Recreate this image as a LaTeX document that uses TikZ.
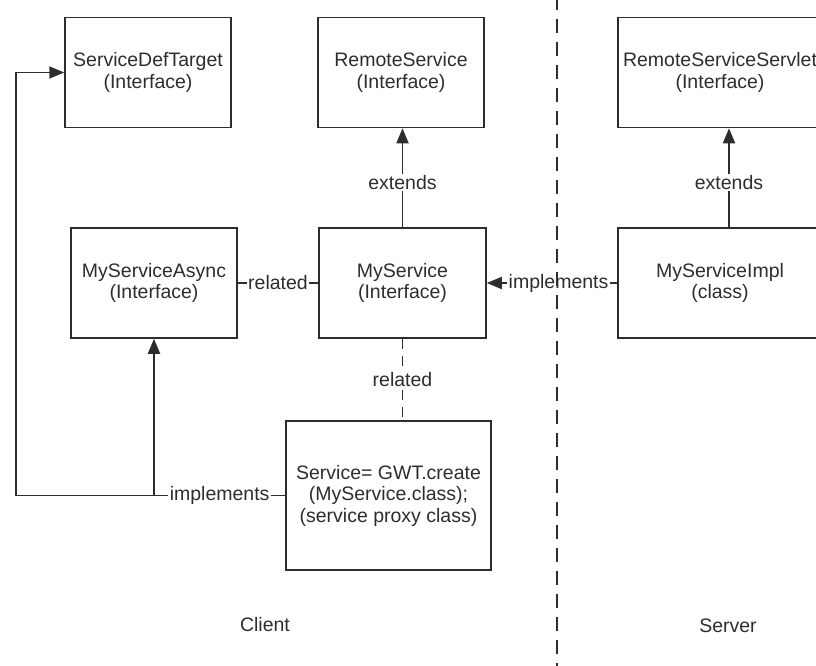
\documentclass[tikz,border=0pt]{standalone}
\usepackage{fontspec}
\setmainfont{Liberation Sans}
\usepackage{tikz}
\usetikzlibrary{arrows.meta,positioning}

\definecolor{inkgray}{RGB}{45,45,45}

\begin{document}
\begin{tikzpicture}[
  x=1pt, y=-1pt,
  box/.style={draw=inkgray, line width=1.5pt, minimum height=110pt, minimum width=166pt,
              inner sep=0pt, align=center, text=inkgray, font=\fontsize{19.5}{21.5}\selectfont},
  link/.style={line width=1.8pt, inkgray},
  tip/.style={-{Triangle[length=15pt, width=12pt]}, line width=1.8pt, inkgray},
  lbl/.style={fill=white, inner sep=1.5pt, text=inkgray, font=\fontsize{19.5}{21.5}\selectfont},
  divider/.style={line width=2pt, inkgray, dash pattern=on 14pt off 9pt}
]
\useasboundingbox (0,0) rectangle (816,666);
\clip (0,0) rectangle (816,666);

% === Client side ===
\node[box] (sdt) at (148, 72.5) {ServiceDefTarget\\(Interface)};
\node[box] (rs) at (401, 72.5) {RemoteService\\(Interface)};
\node[box] (msa) at (154, 283) {MyServiceAsync\\(Interface)};
\node[box, minimum width=167pt] (ms) at (402.5, 283) {MyService\\(Interface)};
\node[box, minimum width=205pt, minimum height=149pt] (svc) at (388.5, 495.5)
  {Service= GWT.create\\(MyService.class);\\(service proxy class)};

% === Server side ===
\node[box, minimum width=204pt] (rss) at (720, 72.5) {RemoteServiceServlet\\(Interface)};
\node[box, minimum width=204pt] (msi) at (720, 283) {MyServiceImpl\\(class)};

% relations
\draw[tip] (ms.north) -- node[lbl, pos=0.45] {extends} (ms.north |- rs.south);
\draw[tip] ([xshift=9pt]msi.north) -- node[lbl, pos=0.45] {extends} ([xshift=9pt]msi.north |- rss.south);
\draw[link] (msa.east) -- node[lbl] {related} (ms.west);
\draw[tip] (msi.west) -- node[lbl, pos=0.45] {implements} (ms.east);
\draw[link, dash pattern=on 10pt off 7pt] (ms.south) -- node[lbl] {related} (ms.south |- svc.north);

% proxy implements both client interfaces
\coordinate (split) at (msa.south |- svc.west);
\coordinate (corner) at (16, 0 |- svc.west);
\draw[link] (svc.west) -- node[lbl] {implements} (split);
\draw[tip] (split) -- (msa.south);
\draw[tip] (split) -- (corner) |- (sdt.west);

% Divider
\draw[divider] (557, -4) -- (557, 670);

\node[lbl, fill=none] (client) at (265, 625) {Client};
\node[lbl, fill=none] (server) at (728, 626) {Server};

\end{tikzpicture}
\end{document}
